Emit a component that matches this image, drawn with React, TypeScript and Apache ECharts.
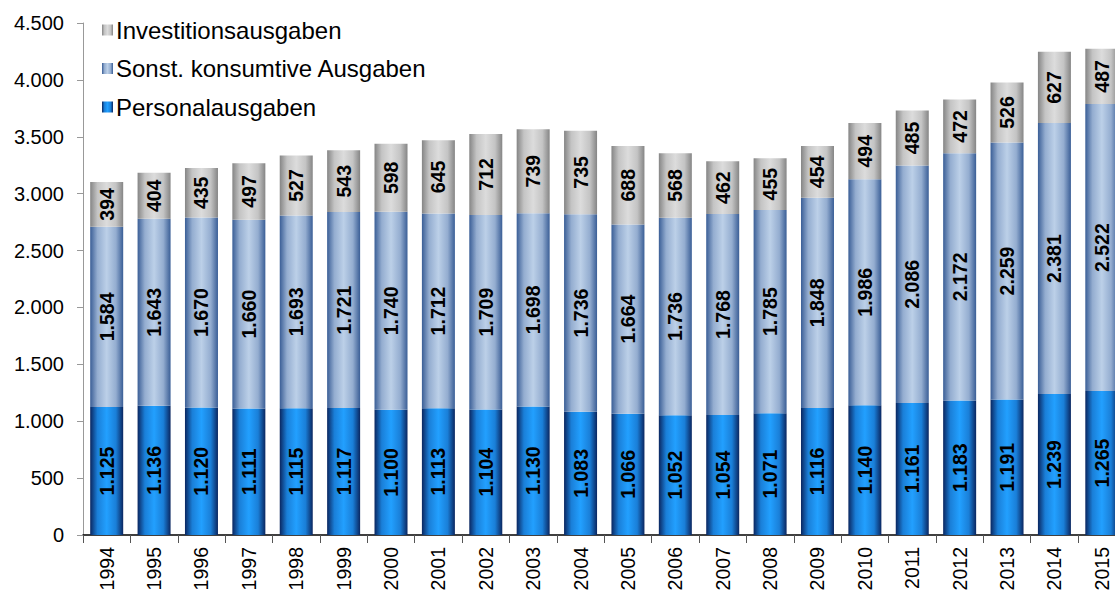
import React, { useEffect, useRef } from "react";
import * as echarts from "echarts";

const years = ["1994","1995","1996","1997","1998","1999","2000","2001","2002","2003","2004","2005","2006","2007","2008","2009","2010","2011","2012","2013","2014","2015"];
const personal = [1125,1136,1120,1111,1115,1117,1100,1113,1104,1130,1083,1066,1052,1054,1071,1116,1140,1161,1183,1191,1239,1265];
const sonst = [1584,1643,1670,1660,1693,1721,1740,1712,1709,1698,1736,1664,1736,1768,1785,1848,1986,2086,2172,2259,2381,2522];
const invest = [394,404,435,497,527,543,598,645,712,739,735,688,568,462,455,454,494,485,472,526,627,487];

const FONT = "Arial, 'Liberation Sans', sans-serif";

const fmt = (v: number) => {
  const s = String(Math.round(v));
  return s.replace(/\B(?=(\d{3})+(?!\d))/g, ".");
};

const grad = (edge: string, mid: string, center: string) =>
  new echarts.graphic.LinearGradient(0, 0, 1, 0, [
    { offset: 0, color: edge },
    { offset: 0.22, color: mid },
    { offset: 0.5, color: center },
    { offset: 0.78, color: mid },
    { offset: 1, color: edge },
  ]);

export default function App() {
  const ref = useRef<HTMLDivElement>(null);
  useEffect(() => {
    if (!ref.current) return;
    const chart = echarts.init(ref.current, null, { renderer: "svg" });
    const label = {
      show: true,
      position: "inside" as const,
      rotate: 90,
      fontFamily: FONT,
      fontWeight: "bold" as const,
      fontSize: 19.5,
      color: "#000",
      formatter: (p: any) => fmt(p.value),
    };
    chart.setOption({
      animation: false,
      textStyle: { fontFamily: FONT },
      grid: { left: 83, top: 23, bottom: 59, right: 4.5, containLabel: false },
      legend: {
        orient: "vertical",
        left: 97,
        top: 13,
        itemWidth: 11,
        itemHeight: 11,
        itemGap: 14.5,
        icon: "rect",
        textStyle: { fontSize: 24, color: "#000", fontFamily: FONT, padding: [0, 0, 0, -2] },
        data: ["Investitionsausgaben", "Sonst. konsumtive Ausgaben", "Personalausgaben"],
      },
      xAxis: {
        type: "category",
        data: years,
        axisLine: { lineStyle: { color: "#000", width: 1.5 } },
        axisTick: { show: true, length: 8, lineStyle: { color: "#555" } },
        axisLabel: { rotate: 90, fontSize: 19.5, color: "#000", margin: 12, fontFamily: FONT },
      },
      yAxis: {
        type: "value",
        min: 0,
        max: 4500,
        interval: 500,
        splitLine: { show: false },
        axisLine: { show: true, lineStyle: { color: "#999" } },
        axisTick: { show: true, length: 6, lineStyle: { color: "#999" } },
        axisLabel: { fontSize: 20, color: "#000", margin: 19, fontFamily: FONT, formatter: (v: number) => fmt(v) },
      },
      series: [
        {
          name: "Personalausgaben",
          type: "bar",
          stack: "a",
          barWidth: 33,
          data: personal,
          itemStyle: { color: grad("#0a2660", "#1a7fd8", "#22a0ff") },
          label,
        },
        {
          name: "Sonst. konsumtive Ausgaben",
          type: "bar",
          stack: "a",
          barWidth: 33,
          data: sonst,
          itemStyle: { color: grad("#3a5e96", "#94add0", "#bcd0e8") },
          label,
        },
        {
          name: "Investitionsausgaben",
          type: "bar",
          stack: "a",
          barWidth: 33,
          data: invest,
          itemStyle: { color: grad("#858585", "#c4c4c4", "#dcdcdc") },
          label,
        },
      ],
    });
    return () => chart.dispose();
  }, []);
  return (
    <div style={{ position: "fixed", left: 0, top: 0, width: 1115, height: 594, overflow: "hidden", background: "#fff" }}>
      <div ref={ref} style={{ width: 1130, height: 594 }} />
    </div>
  );
}
